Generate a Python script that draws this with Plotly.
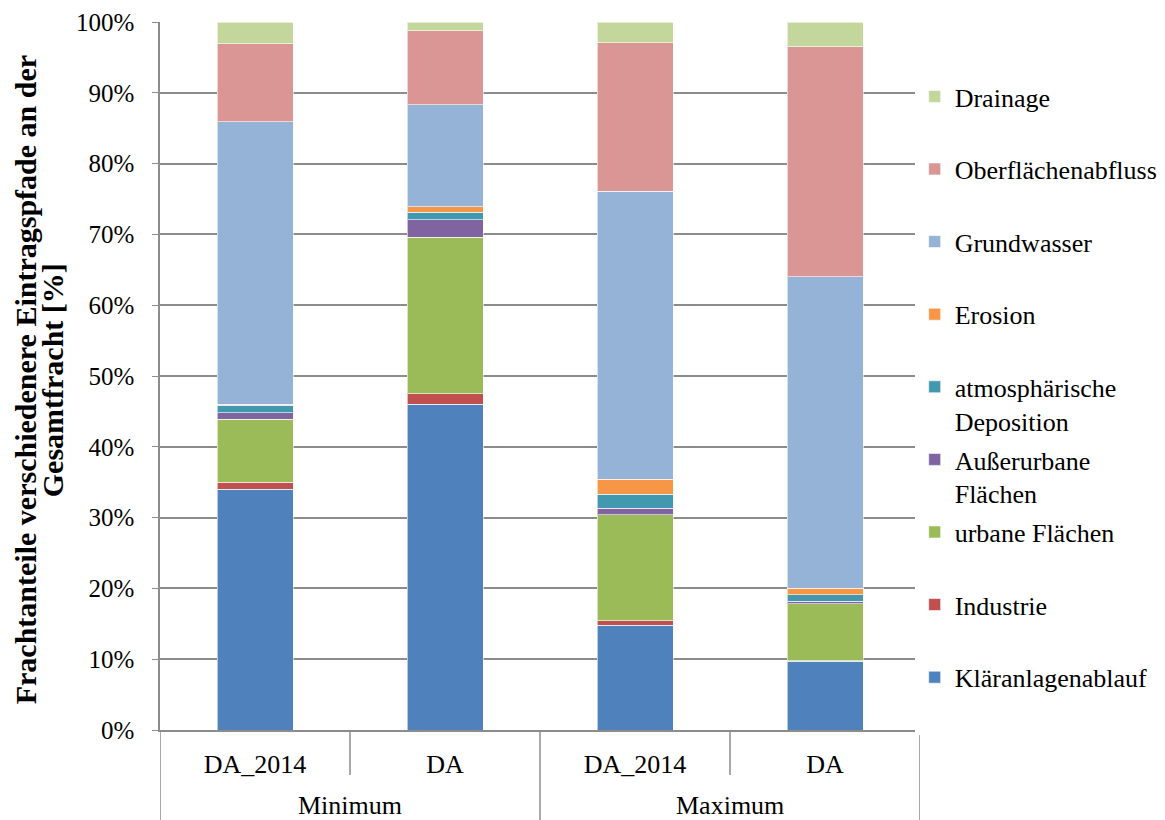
import plotly.graph_objects as go

# x categories (two levels)
groups = ["Minimum", "Minimum", "Maximum", "Maximum"]
scenarios = ["DA_2014", "DA", "DA_2014", "DA"]

# share of each pathway in percent, per bar
klaeranlagen = [34.0, 46.0, 14.8, 9.7]
industrie = [1.0, 1.5, 0.6, 0.1]
urbane = [8.9, 22.1, 15.0, 8.0]
ausserurbane = [0.9, 2.5, 0.9, 0.4]
atmosphaerisch = [1.1, 1.0, 2.0, 0.9]
erosion = [0.1, 0.8, 2.1, 0.9]
grundwasser = [39.9, 14.4, 40.7, 44.0]
oberflaeche = [11.0, 10.5, 21.0, 32.5]
drainage = [3.1, 1.2, 2.9, 3.5]

y_title = ["Frachtanteile verschiedenere Eintragspfade an der", "Gesamtfracht [%]"]

series = [
    ("Kläranlagenablauf", klaeranlagen, "#4F81BD"),
    ("Industrie", industrie, "#C0504D"),
    ("urbane Flächen", urbane, "#9BBB59"),
    ("Außerurbane<br>Flächen", ausserurbane, "#8064A2"),
    ("atmosphärische<br>Deposition", atmosphaerisch, "#4198AF"),
    ("Erosion", erosion, "#F79646"),
    ("Grundwasser", grundwasser, "#95B3D7"),
    ("Oberflächenabfluss", oberflaeche, "#D99694"),
    ("Drainage", drainage, "#C3D69B"),
]

font = "Liberation Serif"
grid = "#8C8C8C"
pos = list(range(len(scenarios)))

fig = go.Figure()
n = len(series)
for i, (name, vals, col) in enumerate(series):
    # pad single-line names so every legend entry has the same height
    label = name if "<br>" in name else name + "<br> "
    fig.add_trace(go.Bar(
        x=pos, y=vals, name=label,
        legendgroup=str(i), legendrank=n - i,
        marker=dict(color=col, line=dict(color="rgba(255,255,255,0.6)", width=1)),
    ))

# category separators below the axis: short between scenarios, long between groups
for k in range(len(pos) + 1):
    xb = k - 0.5
    is_group_edge = k == 0 or k == len(pos) or groups[k] != groups[k - 1]
    fig.add_shape(type="line", xref="x", yref="paper", x0=xb, x1=xb,
                  y0=0, y1=-0.127 if is_group_edge else -0.0636,
                  line=dict(color=grid, width=1.5))

# group labels centred under their bars
for g in dict.fromkeys(groups):
    idx = [p for p, gg in zip(pos, groups) if gg == g]
    fig.add_annotation(x=sum(idx) / len(idx), xref="x", y=-0.107, yref="paper",
                       text=g, showarrow=False, yanchor="middle", borderpad=0,
                       font=dict(family=font, size=26, color="black"))

# y-axis title as two rotated lines
for txt, xp in zip(y_title, [-0.1776, -0.1421]):
    fig.add_annotation(x=xp, xref="paper", y=0.494, yref="paper", text=txt,
                       textangle=-90, showarrow=False, xanchor="center", yanchor="middle",
                       borderpad=0,
                       font=dict(family=font, size=30, color="black", weight="bold"))

fig.update_layout(
    width=1157, height=812,
    barmode="stack", bargap=0.6,
    margin=dict(l=152, r=245, t=14, b=90, autoexpand=False),
    plot_bgcolor="white", paper_bgcolor="white",
    font=dict(family=font, size=26, color="black"),
    legend=dict(
        traceorder="grouped", tracegroupgap=2, valign="top",
        x=0.993, xanchor="left", y=0.928, yanchor="top",
        font=dict(family=font, size=26, color="black"),
    ),
)
fig.update_yaxes(
    range=[0, 100], dtick=10, ticksuffix="%", automargin=False,
    tickfont=dict(family=font, size=25), ticklabelstandoff=13,
    showgrid=True, gridcolor=grid, gridwidth=1.5,
    showline=True, linecolor=grid, linewidth=1.5,
    ticks="outside", ticklen=6, tickcolor=grid, zeroline=False,
)
fig.update_xaxes(
    range=[-0.5, len(pos) - 0.5], automargin=False,
    tickvals=pos, ticktext=scenarios,
    tickfont=dict(family=font, size=26),
    showline=True, linecolor=grid, linewidth=1.5,
    ticks="", ticklabelstandoff=10, showgrid=False, zeroline=False,
)

fig.write_html("out.html")
